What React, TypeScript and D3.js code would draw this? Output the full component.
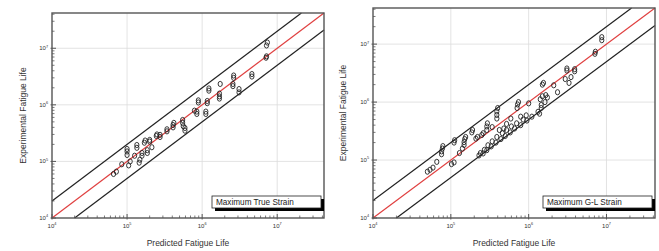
import * as d3 from "d3";
import React from "react";

// Maximum True Strain panel (predicted vs experimental cycles)
const trueStrainPredicted = [
  6.6e4, 7.2e4, 8.5e4, 1.0e5, 1.0e5, 1.0e5, 1.05e5, 1.1e5, 1.26e5, 1.35e5, 1.35e5, 1.45e5, 1.48e5,
  1.58e5, 1.58e5, 1.7e5, 1.74e5, 1.86e5, 1.86e5, 2.0e5, 2.0e5, 2.14e5, 2.45e5, 2.5e5, 2.75e5, 2.75e5,
  3.4e5, 3.4e5, 4.1e5, 4.1e5, 4.2e5, 5.5e5, 5.5e5, 5.6e5, 5.9e5, 5.9e5, 7.9e5, 8.5e5, 8.5e5, 8.9e5,
  8.9e5, 1.12e6, 1.12e6, 1.17e6, 1.17e6, 1.23e6, 1.23e6, 1.7e6, 1.7e6, 1.7e6, 1.74e6, 2.57e6, 2.57e6,
  2.63e6, 2.63e6, 3.1e6, 3.1e6, 4.6e6, 4.6e6, 7.1e6, 7.2e6, 7.2e6, 7.4e6,
];
const trueStrainExperimental = [
  6.0e4, 6.6e4, 8.9e4, 1.3e5, 1.5e5, 1.66e5, 8.5e4, 1.0e5, 1.26e5, 1.74e5, 1.95e5, 9.5e4, 1.07e5,
  1.26e5, 1.41e5, 2.14e5, 2.34e5, 1.41e5, 1.58e5, 2.24e5, 2.4e5, 1.78e5, 2.82e5, 3.0e5, 2.7e5, 2.95e5,
  3.4e5, 3.7e5, 4.0e5, 4.4e5, 4.8e5, 4.8e5, 5.4e5, 4.2e5, 3.5e5, 3.9e5, 7.9e5, 6.9e5, 7.6e5, 1.1e6,
  1.2e6, 6.9e5, 7.6e5, 1.07e6, 1.17e6, 1.78e6, 1.95e6, 1.29e6, 1.41e6, 1.58e6, 2.34e6, 2.14e6, 2.34e6,
  3.0e6, 3.3e6, 1.66e6, 1.9e6, 3.16e6, 3.5e6, 6.8e6, 7.2e6, 1.12e7, 1.26e7,
];

// Maximum G-L Strain panel
const glStrainPredicted = [
  5.0e4, 5.4e4, 5.9e4, 6.6e4, 7.6e4, 7.6e4, 7.8e4, 7.9e4, 1.02e5, 1.1e5, 1.1e5, 1.12e5, 1.29e5, 1.41e5,
  1.48e5, 1.48e5, 1.51e5, 1.55e5, 1.86e5, 1.9e5, 2.1e5, 2.2e5, 2.5e5, 2.6e5, 2.9e5, 2.9e5, 2.95e5,
  3.4e5, 3.9e5, 3.9e5, 3.9e5, 4.0e5,
  2.3e5, 2.4e5, 2.6e5, 2.7e5, 2.9e5, 3.0e5, 3.3e5, 3.4e5, 3.8e5, 3.9e5, 4.4e5, 4.6e5, 5.0e5, 5.2e5,
  5.8e5, 6.0e5, 6.6e5, 7.0e5, 7.9e5, 8.5e5, 9.5e5, 1.1e6, 1.32e6, 1.45e6,
  4.2e5, 4.8e5, 5.2e5, 5.9e5, 7.1e5, 7.2e5, 7.4e5, 7.9e5, 9.3e5, 1.0e6,
  1.38e6, 1.41e6, 1.45e6, 1.5e6, 1.5e6, 1.55e6, 1.62e6, 1.66e6, 1.74e6, 2.1e6, 2.35e6, 2.95e6, 3.1e6,
  3.1e6, 3.3e6, 3.5e6, 3.9e6, 3.9e6, 7.1e6, 7.2e6, 8.7e6, 8.7e6,
];
const glStrainExperimental = [
  6.3e4, 6.8e4, 7.4e4, 9.3e4, 1.26e5, 1.41e5, 1.58e5, 1.74e5, 8.5e4, 9.1e4, 2.0e5, 2.2e5, 1.32e5, 1.58e5,
  1.82e5, 2.04e5, 2.3e5, 2.5e5, 3.0e5, 3.3e5, 2.34e5, 2.5e5, 2.7e5, 2.9e5, 3.3e5, 3.8e5, 4.3e5,
  3.7e5, 5.2e5, 6.0e5, 6.9e5, 7.9e5,
  1.2e5, 1.32e5, 1.3e5, 1.5e5, 1.48e5, 1.8e5, 1.72e5, 2.1e5, 2.0e5, 2.5e5, 2.3e5, 2.9e5, 2.6e5, 3.3e5,
  3.0e5, 3.8e5, 3.5e5, 4.3e5, 4.0e5, 5.0e5, 4.8e5, 5.6e5, 6.8e5, 7.9e5,
  3.3e5, 3.5e5, 4.2e5, 5.2e5, 7.9e5, 9.1e5, 1.0e6, 5.6e5, 5.9e5, 9.5e5,
  6.3e5, 1.12e6, 8.9e5, 1.26e6, 2.0e6, 2.14e6, 1.0e6, 1.32e6, 1.2e6, 1.95e6, 1.48e6, 2.5e6, 3.8e6,
  3.5e6, 2.14e6, 2.7e6, 3.4e6, 3.7e6, 6.8e6, 7.4e6, 1.17e7, 1.32e7,
];

const decades = [1e4, 1e5, 1e6, 1e7];
const legendLabels = ["Maximum True Strain", "Maximum G-L Strain"];
const xTitle = "Predicted Fatigue Life";
const yTitle = "Experimental Fatigue Life";
const domain: [number, number] = [1e4, 4.2e7];

interface PanelProps {
  pred: number[];
  exp: number[];
  label: string;
  x0: number;
  x1: number;
  yTop: number;
  yBottom: number;
  yTitleX: number;
}

function Panel(p: PanelProps) {
  const x = d3.scaleLog().domain(domain).range([p.x0, p.x1]);
  const y = d3.scaleLog().domain(domain).range([p.yBottom, p.yTop]);
  const minor: number[] = [];
  for (let d = 1e4; d < domain[1]; d *= 10) {
    for (let k = 2; k <= 9; k++) if (d * k <= domain[1]) minor.push(d * k);
  }
  const line = (f: number) => {
    // clip the y = f*x line to the plot box
    const xs = Math.max(domain[0], domain[0] / f);
    const xe = Math.min(domain[1], domain[1] / f);
    return `M${x(xs)},${y(xs * f)}L${x(xe)},${y(xe * f)}`;
  };
  const exps = decades.map((d) => Math.round(Math.log10(d)));
  const lw = 109;
  const lh = 12;
  const lx = p.x1 - lw - 3;
  const ly = p.yBottom - 22;
  return (
    <g fontFamily="Liberation Sans, Arial, sans-serif">
      <rect x={p.x0} y={p.yTop} width={p.x1 - p.x0} height={p.yBottom - p.yTop} fill="#fff" />
      {decades.slice(1).map((d) => (
        <g key={d}>
          <line x1={x(d)} x2={x(d)} y1={p.yTop} y2={p.yBottom} stroke="#dcdcdc" strokeWidth={0.8} />
          <line x1={p.x0} x2={p.x1} y1={y(d)} y2={y(d)} stroke="#dcdcdc" strokeWidth={0.8} />
        </g>
      ))}
      {minor.map((d) => (
        <g key={"m" + d} stroke="#444" strokeWidth={0.7}>
          <line x1={x(d)} x2={x(d)} y1={p.yBottom} y2={p.yBottom - 2.5} />
          <line x1={p.x0} x2={p.x0 + 2.5} y1={y(d)} y2={y(d)} />
        </g>
      ))}
      {decades.map((d) => (
        <g key={"M" + d} stroke="#444" strokeWidth={0.9}>
          <line x1={x(d)} x2={x(d)} y1={p.yBottom + 1.5} y2={p.yBottom - 4} />
          <line x1={p.x0 - 1.5} x2={p.x0 + 4} y1={y(d)} y2={y(d)} />
        </g>
      ))}
      <path d={line(2)} stroke="#222" strokeWidth={1.2} fill="none" />
      <path d={line(0.5)} stroke="#222" strokeWidth={1.2} fill="none" />
      <path d={line(1)} stroke="#e04040" strokeWidth={1.2} fill="none" />
      {p.pred.map((v, i) => (
        <ellipse key={i} cx={x(v)} cy={y(p.exp[i])} rx={2.1} ry={2.6} fill="none" stroke="#222" strokeWidth={0.9} />
      ))}
      <rect x={p.x0} y={p.yTop} width={p.x1 - p.x0} height={p.yBottom - p.yTop} fill="none" stroke="#555" strokeWidth={1.4} />
      <rect x={lx + 3} y={ly + 3} width={lw} height={lh} fill="#000" />
      <rect x={lx} y={ly} width={lw} height={lh} fill="#fff" stroke="#222" strokeWidth={0.8} />
      <text x={lx + 4} y={ly + 9} fontSize={8.2} fill="#222">{p.label}</text>
      {decades.map((d, i) => (
        <text key={"xl" + d} x={x(d)} y={p.yBottom + 10} fontSize={6} textAnchor="middle" fill="#333">
          10<tspan fontSize={3.8} dy={-2.6}>{exps[i]}</tspan>
        </text>
      ))}
      {decades.map((d, i) => (
        <text key={"yl" + d} x={p.x0 - 4} y={y(d) + 2} fontSize={6} textAnchor="end" fill="#333">
          10<tspan fontSize={3.8} dy={-2.6}>{exps[i]}</tspan>
        </text>
      ))}
      <text x={(p.x0 + p.x1) / 2} y={p.yBottom + 28} fontSize={8.5} textAnchor="middle" fill="#333">{xTitle}</text>
      <text
        transform={`translate(${p.yTitleX},${(p.yTop + p.yBottom) / 2}) rotate(-90)`}
        fontSize={8.5}
        textAnchor="middle"
        fill="#333"
      >
        {yTitle}
      </text>
    </g>
  );
}

export default function App() {
  return (
    <svg width={659} height={251} style={{ position: "absolute", left: 0, top: 0, background: "#fff" }}>
      <Panel pred={trueStrainPredicted} exp={trueStrainExperimental} label={legendLabels[0]}
        x0={52} x1={324} yTop={13} yBottom={218} yTitleX={26} />
      <Panel pred={glStrainPredicted} exp={glStrainExperimental} label={legendLabels[1]}
        x0={373} x1={655} yTop={8} yBottom={218} yTitleX={346} />
    </svg>
  );
}
